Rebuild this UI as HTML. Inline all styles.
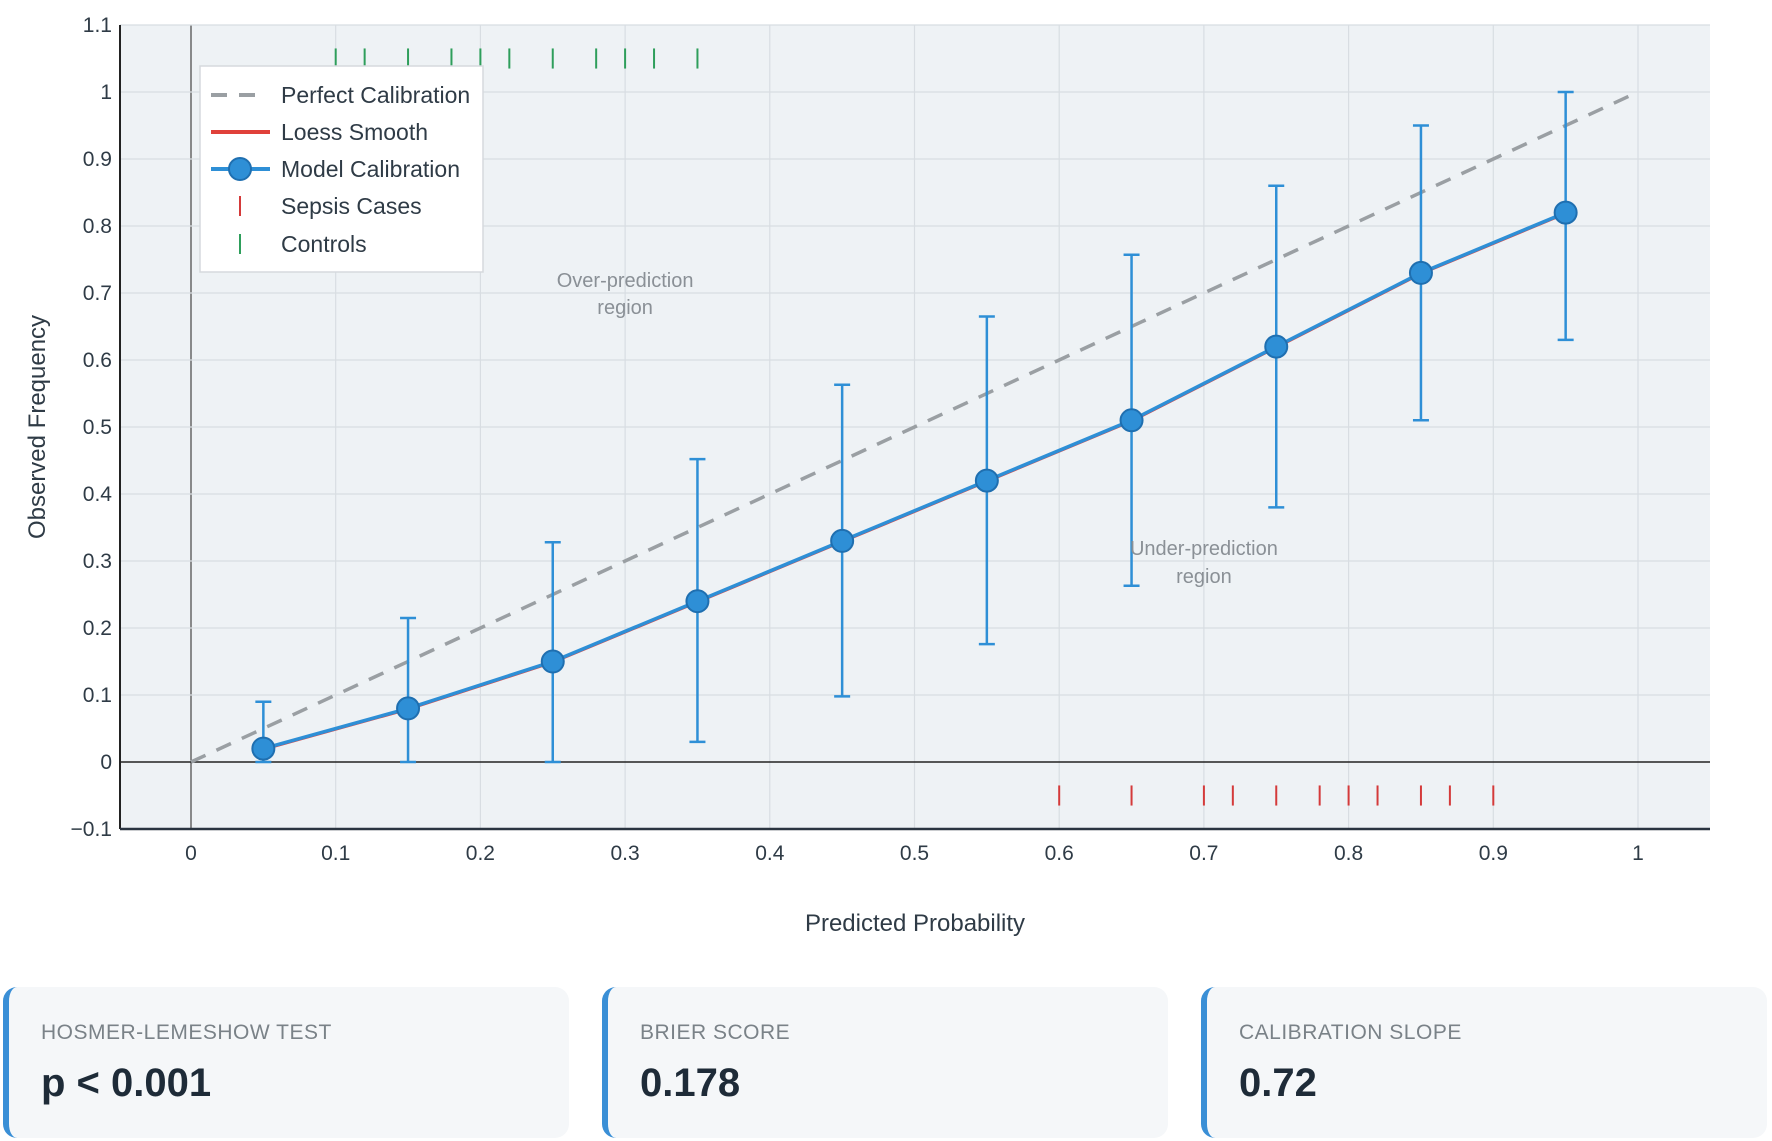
<!DOCTYPE html>
<html><head><meta charset="utf-8"><style>
body{margin:0;width:1772px;height:1141px;background:#fff;font-family:"Liberation Sans",sans-serif;overflow:hidden;position:relative}
.card{position:absolute;top:987px;height:151px;width:566px;background:#f5f7f9;border-left:6px solid #3a8fd6;border-radius:14px;box-sizing:border-box}
.card .lbl{position:absolute;left:32px;top:34px;font-size:21px;color:#7a8288;letter-spacing:0.5px}
.card .val{position:absolute;left:32px;top:74px;font-size:40px;font-weight:bold;color:#1e2b38}
</style></head><body>
<svg id="chart" width="1772" height="980" style="position:absolute;left:0;top:0" font-family="Liberation Sans, sans-serif"></svg>
<div class="card" style="left:3px"><div class="lbl">HOSMER-LEMESHOW TEST</div><div class="val">p &lt; 0.001</div></div>
<div class="card" style="left:602px"><div class="lbl">BRIER SCORE</div><div class="val">0.178</div></div>
<div class="card" style="left:1201px"><div class="lbl">CALIBRATION SLOPE</div><div class="val">0.72</div></div>
<script>
const binX=[0.05,0.15,0.25,0.35,0.45,0.55,0.65,0.75,0.85,0.95];
const obsY=[0.02,0.08,0.15,0.24,0.33,0.42,0.51,0.62,0.73,0.82];
const upperY=[0.09,0.215,0.328,0.452,0.563,0.665,0.757,0.86,0.95,1.0];
const lowerY=[0,0,0,0.03,0.098,0.176,0.263,0.38,0.51,0.63];
const controlX=[0.1,0.12,0.15,0.18,0.2,0.22,0.25,0.28,0.3,0.32,0.35];
const caseX=[0.6,0.65,0.7,0.72,0.75,0.78,0.8,0.82,0.85,0.87,0.9];
const xTicks=[0,0.1,0.2,0.3,0.4,0.5,0.6,0.7,0.8,0.9,1];
const yTicks=[-0.1,0,0.1,0.2,0.3,0.4,0.5,0.6,0.7,0.8,0.9,1,1.1];
const X=v=>191+v*1447, Y=v=>762-v*670;
const svg=document.getElementById('chart');
const NS='http://www.w3.org/2000/svg';
function mk(t,a,txt){const e=document.createElementNS(NS,t);for(const k in a)e.setAttribute(k,a[k]);if(txt!=null)e.textContent=txt;svg.appendChild(e);return e;}
let e;
e=mk('rect',{x:120,y:Y(1.1),width:1590,height:Y(-0.1)-Y(1.1),fill:'#eef2f5'});


xTicks.forEach(t=>{
 e=mk('line',{x1:X(t),x2:X(t),y1:Y(1.1),y2:Y(-0.1),stroke:t===0?'#444':'#d8dde2','stroke-width':1.2});
 
 
 e=mk('text',{x:X(t),y:Y(-0.1)+31,'text-anchor':'middle','font-size':21,fill:'#2f3b46'},String(t));
 
 
});
yTicks.forEach(t=>{
 e=mk('line',{x1:120,x2:1710,y1:Y(t),y2:Y(t),stroke:t===0?'#222':'#d8dde2','stroke-width':t===0?1.6:1.2});
 
 
 const lbl=t<0?'\u2212'+Math.abs(t):String(Math.round(t*10)/10);
 e=mk('text',{x:112,y:Y(t)+7,'text-anchor':'end','font-size':21,fill:'#2f3b46'},lbl);
 
 
});
e=mk('line',{x1:120,x2:120,y1:Y(1.1),y2:Y(-0.1),stroke:'#222','stroke-width':2});


e=mk('line',{x1:120,x2:1710,y1:Y(-0.1),y2:Y(-0.1),stroke:'#2a3440','stroke-width':2.5});


e=mk('line',{x1:X(0),y1:Y(0),x2:X(1),y2:Y(1),stroke:'#9a9fa3','stroke-width':3.5,'stroke-dasharray':'16,12'});


controlX.forEach(c=>{e=mk('line',{x1:X(c),x2:X(c),y1:Y(1.065),y2:Y(1.035),stroke:'#2e9e5b','stroke-width':2});
 
 });
caseX.forEach(c=>{e=mk('line',{x1:X(c),x2:X(c),y1:Y(-0.035),y2:Y(-0.065),stroke:'#d43a3a','stroke-width':2});
 
 });
binX.forEach((b,i)=>{
 e=mk('line',{x1:X(b),x2:X(b),y1:Y(upperY[i]),y2:Y(lowerY[i]),stroke:'#2e8fd6','stroke-width':2.5});
 
 
 [upperY[i],lowerY[i]].forEach(v=>{e=mk('line',{x1:X(b)-8,x2:X(b)+8,y1:Y(v),y2:Y(v),stroke:'#2e8fd6','stroke-width':2.5});
 
 });
});
const pts=binX.map((b,i)=>X(b)+','+Y(obsY[i])).join(' ');
e=mk('polyline',{points:binX.map((b,i)=>X(b)+','+(Y(obsY[i])+1)).join(' '),fill:'none',stroke:'#e0413a','stroke-width':2.5});


e=mk('polyline',{points:pts,fill:'none',stroke:'#2e8fd6','stroke-width':3.5});


binX.forEach((b,i)=>{e=mk('circle',{cx:X(b),cy:Y(obsY[i]),r:11,fill:'#2e8fd6',stroke:'#1f6fb0','stroke-width':2});
 
 });
[['Over-prediction',0.3,287],['region',0.3,314],['Under-prediction',0.7,555],['region',0.7,583]].forEach(a=>{
 e=mk('text',{x:X(a[1]),y:a[2],'text-anchor':'middle','font-size':20,fill:'#8a9096'},a[0]);
 
 });
e=mk('text',{x:915,y:931,'text-anchor':'middle','font-size':24,fill:'#2f3b46'},'Predicted Probability');


e=mk('text',{x:0,y:0,'text-anchor':'middle','font-size':24,fill:'#2f3b46',transform:'translate(45,427) rotate(-90)'},'Observed Frequency');


e=mk('rect',{x:200,y:66,width:283,height:206,fill:'#fff',stroke:'#d5d9dd','stroke-width':1.5});


const legY=[102,139,176,213,251];
e=mk('line',{x1:211,x2:265,y1:legY[0]-7,y2:legY[0]-7,stroke:'#9a9fa3','stroke-width':4,'stroke-dasharray':'16,12'});

e=mk('line',{x1:211,x2:270,y1:legY[1]-7,y2:legY[1]-7,stroke:'#e0413a','stroke-width':4});

e=mk('line',{x1:211,x2:270,y1:legY[2]-7,y2:legY[2]-7,stroke:'#2e8fd6','stroke-width':4});

e=mk('circle',{cx:240,cy:legY[2]-7,r:11,fill:'#2e8fd6',stroke:'#1f6fb0','stroke-width':2});

e=mk('line',{x1:240,x2:240,y1:legY[3]-17,y2:legY[3]+3,stroke:'#d43a3a','stroke-width':2});

e=mk('line',{x1:240,x2:240,y1:legY[4]-17,y2:legY[4]+3,stroke:'#2e9e5b','stroke-width':2});

['Perfect Calibration','Loess Smooth','Model Calibration','Sepsis Cases','Controls'].forEach((t,i)=>{
 e=mk('text',{x:281,y:legY[i]+1,'font-size':23,fill:'#2f3b46'},t);
 
 });
</script>
</body></html>
